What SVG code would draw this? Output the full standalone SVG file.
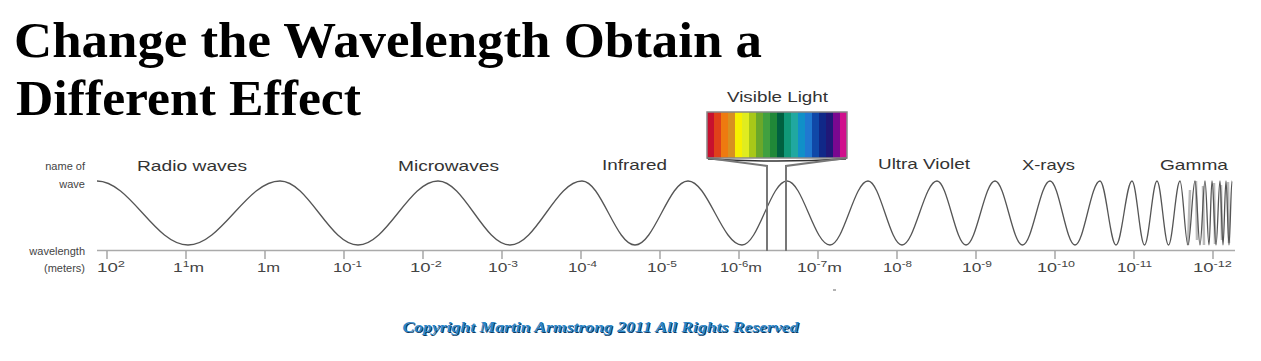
<svg xmlns="http://www.w3.org/2000/svg" width="1261" height="361" viewBox="0 0 1261 361">
<style>
.title{font-family:"Liberation Serif",serif;font-weight:bold;font-size:50px;fill:#000}
.cat{font-family:"Liberation Sans",Arial,sans-serif;font-size:15px;fill:#333}
.side{font-family:"Liberation Sans",Arial,sans-serif;font-size:11px;fill:#444;text-anchor:end}
.tick{font-family:"Liberation Sans",Arial,sans-serif;font-size:13px;fill:#444}
.sup{font-size:9px}
.tk{stroke:#999;stroke-width:1.3}
.conn{stroke:#777;stroke-width:2;fill:none}
.copy{font-family:"Liberation Serif",serif;font-weight:bold;font-style:italic;font-size:14px}
</style>
<rect width="1261" height="361" fill="#fff"/>
<g id="title">
<text class="title" x="14" y="57" textLength="748" lengthAdjust="spacingAndGlyphs">Change the Wavelength Obtain a</text>
<text class="title" x="16" y="115" textLength="345" lengthAdjust="spacingAndGlyphs">Different Effect</text>
</g>
<g id="side-labels">
<text class="side" x="85" y="170">name of</text>
<text class="side" x="85" y="188">wave</text>
<text class="side" x="85" y="255">wavelength</text>
<text class="side" x="85" y="272">(meters)</text>
</g>
<g id="wave-names">
<text class="cat" x="137" y="171" textLength="110" lengthAdjust="spacingAndGlyphs">Radio waves</text>
<text class="cat" x="398" y="171" textLength="101" lengthAdjust="spacingAndGlyphs">Microwaves</text>
<text class="cat" x="602" y="170" textLength="65" lengthAdjust="spacingAndGlyphs">Infrared</text>
<text class="cat" x="878" y="169" textLength="92" lengthAdjust="spacingAndGlyphs">Ultra Violet</text>
<text class="cat" x="1022" y="170" textLength="53" lengthAdjust="spacingAndGlyphs">X-rays</text>
<text class="cat" x="1160" y="170" textLength="68" lengthAdjust="spacingAndGlyphs">Gamma</text>
</g>
<g id="axis">
<line x1="97" y1="250.5" x2="1235" y2="250.5" stroke="#aaa" stroke-width="1.5"/>
<line class="tk" x1="107" y1="251" x2="107" y2="259"/>
<line class="tk" x1="186" y1="251" x2="186" y2="259"/>
<line class="tk" x1="265" y1="251" x2="265" y2="259"/>
<line class="tk" x1="344" y1="251" x2="344" y2="259"/>
<line class="tk" x1="423" y1="251" x2="423" y2="259"/>
<line class="tk" x1="502" y1="251" x2="502" y2="259"/>
<line class="tk" x1="581" y1="251" x2="581" y2="259"/>
<line class="tk" x1="660" y1="251" x2="660" y2="259"/>
<line class="tk" x1="739" y1="251" x2="739" y2="259"/>
<line class="tk" x1="818" y1="251" x2="818" y2="259"/>
<line class="tk" x1="897" y1="251" x2="897" y2="259"/>
<line class="tk" x1="976" y1="251" x2="976" y2="259"/>
<line class="tk" x1="1055" y1="251" x2="1055" y2="259"/>
<line class="tk" x1="1134" y1="251" x2="1134" y2="259"/>
<line class="tk" x1="1213" y1="251" x2="1213" y2="259"/>
<line x1="833" y1="290" x2="836" y2="290" stroke="#666" stroke-width="1"/>
</g>
<g id="tick-labels">
<text class="tick" x="97" y="272" textLength="28" lengthAdjust="spacingAndGlyphs">10<tspan class="sup" dy="-5">2</tspan></text>
<text class="tick" x="173" y="272" textLength="31" lengthAdjust="spacingAndGlyphs">1<tspan class="sup" dy="-5">1</tspan><tspan dy="5">m</tspan></text>
<text class="tick" x="257" y="272" textLength="23" lengthAdjust="spacingAndGlyphs">1m</text>
<text class="tick" x="333" y="272" textLength="29" lengthAdjust="spacingAndGlyphs">10<tspan class="sup" dy="-5">-1</tspan></text>
<text class="tick" x="410" y="272" textLength="32" lengthAdjust="spacingAndGlyphs">10<tspan class="sup" dy="-5">-2</tspan></text>
<text class="tick" x="488" y="272" textLength="30" lengthAdjust="spacingAndGlyphs">10<tspan class="sup" dy="-5">-3</tspan></text>
<text class="tick" x="568" y="272" textLength="29" lengthAdjust="spacingAndGlyphs">10<tspan class="sup" dy="-5">-4</tspan></text>
<text class="tick" x="647" y="272" textLength="30" lengthAdjust="spacingAndGlyphs">10<tspan class="sup" dy="-5">-5</tspan></text>
<text class="tick" x="720" y="272" textLength="42" lengthAdjust="spacingAndGlyphs">10<tspan class="sup" dy="-5">-6</tspan><tspan dy="5">m</tspan></text>
<text class="tick" x="797" y="272" textLength="45" lengthAdjust="spacingAndGlyphs">10<tspan class="sup" dy="-5">-7</tspan><tspan dy="5">m</tspan></text>
<text class="tick" x="883" y="272" textLength="29" lengthAdjust="spacingAndGlyphs">10<tspan class="sup" dy="-5">-8</tspan></text>
<text class="tick" x="962" y="272" textLength="30" lengthAdjust="spacingAndGlyphs">10<tspan class="sup" dy="-5">-9</tspan></text>
<text class="tick" x="1037" y="272" textLength="38" lengthAdjust="spacingAndGlyphs">10<tspan class="sup" dy="-5">-10</tspan></text>
<text class="tick" x="1117" y="272" textLength="35" lengthAdjust="spacingAndGlyphs">10<tspan class="sup" dy="-5">-11</tspan></text>
<text class="tick" x="1193" y="272" textLength="39" lengthAdjust="spacingAndGlyphs">10<tspan class="sup" dy="-5">-12</tspan></text>
</g>
<g id="wave">
<path d="M1188,245 L1190,190 M1196,181 L1197,240 M1203,186 L1204,245 M1214,183 L1215,244 M1221,185 L1222,240 M1228,182 L1229,243" stroke="#bbb" stroke-width="2.5" fill="none"/>
<path fill="none" stroke="#555" stroke-width="1.3" d="M97,181 C130.1,181 154.9,245 188,245 C221.5,245 246.5,181 280,181 C308.4,181 329.6,245 358,245 C387.1,245 408.9,181 438,181 C464.2,181 483.8,245 510,245 C536.2,245 555.8,181 582,181 C601.3,181 615.7,245 635,245 C654.3,245 668.7,181 688,181 C707.7,181 722.3,245 742,245 C758.4,245 770.6,181 787,181 C802.7,181 814.3,245 830,245 C843.8,245 854.2,181 868,181 C880.4,181 889.6,245 902,245 C914.7,245 924.3,181 937,181 C947.6,181 955.4,245 966,245 C976.6,245 984.4,181 995,181 C1005,181 1012.5,245 1022.5,245 C1032.5,245 1040,181 1050,181 C1059.1,181 1065.9,245 1075,245 C1084.1,245 1090.9,181 1100,181 C1105.8,181 1110.2,245 1116,245 C1121.8,245 1126.2,181 1132,181 C1136.55,181 1139.95,245 1144.5,245 C1149.05,245 1152.45,181 1157,181 C1161.2,181 1164.3,245 1168.5,245 C1172.7,245 1175.8,181 1180,181 C1182.9,181 1185.1,245 1188,245 C1190.5,245 1192.5,181 1195,181 C1196.8,181 1198.2,245 1200,245 C1201.8,245 1203.2,181 1205,181 C1206.5,181 1207.5,245 1209,245 C1210.1,245 1210.9,181 1212,181 C1213.5,181 1214.5,245 1216,245 C1217.5,245 1218.5,181 1220,181 C1221.1,181 1221.9,245 1223,245 C1224.1,245 1224.9,181 1226,181 C1227.1,181 1227.9,245 1229,245 C1230.1,245 1230.9,181 1232,181"/>
</g>
<g id="visible-light">
<text class="cat" x="727" y="102" textLength="101" lengthAdjust="spacingAndGlyphs">Visible Light</text>
<rect x="707" y="112" width="7" height="46" fill="#c8102e"/>
<rect x="714" y="112" width="7" height="46" fill="#e0401a"/>
<rect x="721" y="112" width="7" height="46" fill="#ee7a10"/>
<rect x="728" y="112" width="7" height="46" fill="#d89020"/>
<rect x="735" y="112" width="7" height="46" fill="#f8f000"/>
<rect x="742" y="112" width="7" height="46" fill="#e0ec20"/>
<rect x="749" y="112" width="7" height="46" fill="#a8c818"/>
<rect x="756" y="112" width="7" height="46" fill="#6aa82a"/>
<rect x="763" y="112" width="7" height="46" fill="#40a040"/>
<rect x="770" y="112" width="7" height="46" fill="#208838"/>
<rect x="777" y="112" width="7" height="46" fill="#006040"/>
<rect x="784" y="112" width="7" height="46" fill="#109878"/>
<rect x="791" y="112" width="7" height="46" fill="#20a8a0"/>
<rect x="798" y="112" width="7" height="46" fill="#1090c8"/>
<rect x="805" y="112" width="7" height="46" fill="#2078d0"/>
<rect x="812" y="112" width="7" height="46" fill="#1048a8"/>
<rect x="819" y="112" width="7" height="46" fill="#102888"/>
<rect x="826" y="112" width="7" height="46" fill="#201878"/>
<rect x="833" y="112" width="7" height="46" fill="#7a0890"/>
<rect x="840" y="112" width="7" height="46" fill="#d0108c"/>
<rect x="707" y="112" width="140" height="46" fill="none" stroke="#888" stroke-width="1.5"/>
<path d="M708,159 Q777,163 846,159" stroke="#333" stroke-width="1.5" fill="none"/>
</g>
<g id="connectors">
<polyline class="conn" points="707,158 767,166 767,251"/>
<polyline class="conn" points="847,158 786,166 786,251"/>
</g>
<g id="copyright">
<text class="copy" x="403.5" y="332.5" fill="#0a3a66" textLength="396" lengthAdjust="spacingAndGlyphs">Copyright Martin Armstrong 2011 All Rights Reserved</text>
<text class="copy" x="402.5" y="331.5" fill="#2a86c8" textLength="396" lengthAdjust="spacingAndGlyphs">Copyright Martin Armstrong 2011 All Rights Reserved</text>
</g>
</svg>
